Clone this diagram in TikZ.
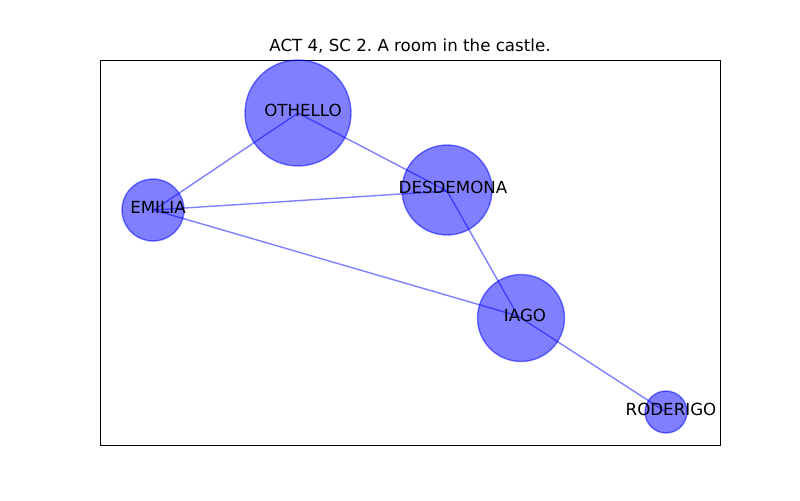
\documentclass[tikz,border=0pt]{standalone}
\usepackage{fontspec}
\setmainfont{DejaVu Sans}
\usetikzlibrary{calc}
\frenchspacing
\begin{document}
\begin{tikzpicture}[x=0.72pt,y=-0.72pt,
  pers/.style={circle,inner sep=0pt,fill=blue,fill opacity=0.5,draw=blue,draw opacity=0.5,line width=1pt},
  rel/.style={draw=blue,draw opacity=0.5,line width=1pt},
  lab/.style={font=\fontsize{12}{14}\selectfont,inner sep=0pt,text=black}]
\useasboundingbox (0,0) rectangle (800,500);
\fill[white] (0,0) rectangle (800,500);
\node[lab] (title) at (410,46) {ACT 4, SC 2.\ A room in the castle.};
\coordinate (ax1) at (100.5,60.5);
\coordinate (ax2) at (720.5,445.5);
\draw[line width=0.6pt] (ax1) rectangle (ax2);
\coordinate (cO) at (298,113);
\coordinate (cD) at (447,191);
\coordinate (cE) at (154,210);
\coordinate (cI) at (518,316);
\coordinate (cR) at (666,412);
\draw[rel] (cO) -- (cE);
\draw[rel] (cO) -- (cD);
\draw[rel] (cE) -- (cD);
\draw[rel] (cE) -- (cI);
\draw[rel] (cD) -- (cI);
\draw[rel] (cI) -- (cR);
\node[pers,minimum size=76.3pt] (O) at (298,113) {};
\node[pers,minimum size=64.8pt] (D) at (447,190) {};
\node[pers,minimum size=44.6pt] (E) at (153,210) {};
\node[pers,minimum size=62.6pt] (I) at (521,318) {};
\node[pers,minimum size=30.2pt] (R) at (666,412) {};
\node[lab] (lO) at (303,110) {OTHELLO};
\node[lab] (lD) at (453,187) {DESDEMONA};
\node[lab] (lE) at (158,207) {EMILIA};
\node[lab] (lI) at (525,315) {IAGO};
\node[lab] (lR) at (671,409) {RODERIGO};
\end{tikzpicture}
\end{document}
